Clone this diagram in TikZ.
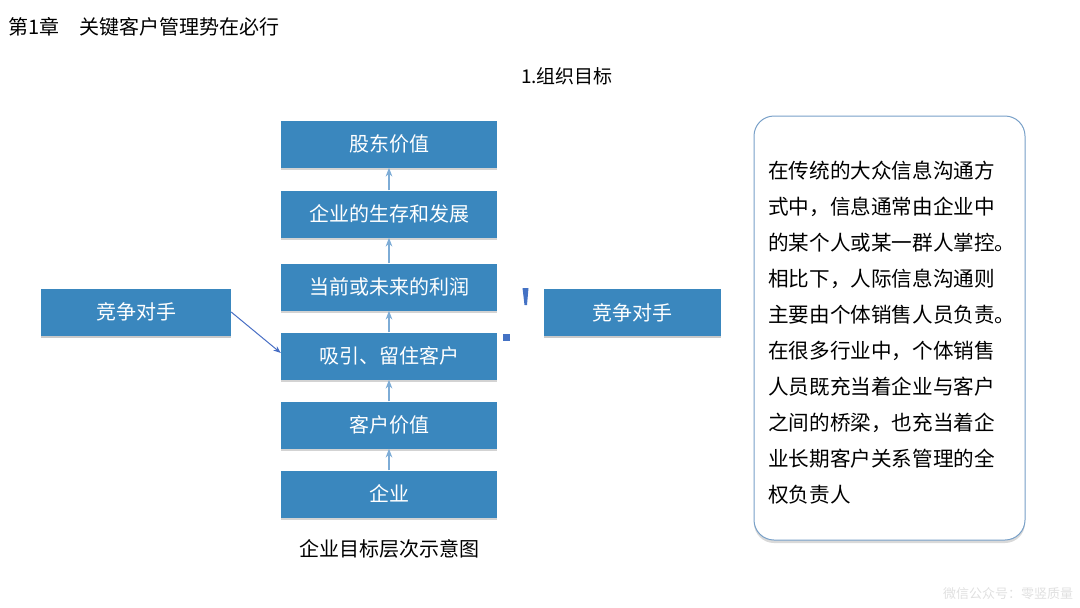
\documentclass[tikz,border=0pt]{standalone}
\usepackage{fontspec}
\setmainfont{Noto Sans CJK SC}
\usetikzlibrary{arrows.meta,positioning,shadows}
\definecolor{boxblue}{RGB}{58,135,190}
\definecolor{linkblue}{RGB}{125,172,214}
\definecolor{sideblue}{RGB}{72,110,196}
\definecolor{markblue}{RGB}{68,114,196}
\definecolor{frameblue}{RGB}{120,160,200}

\begin{document}
\begin{tikzpicture}[x=1pt,y=-1pt,>=Stealth,
  every node/.style={font=\fontsize{20}{24}\selectfont},
  goal/.style={fill=boxblue,text=white,minimum width=216pt,minimum height=47pt,inner sep=0pt,
    drop shadow={shadow xshift=0pt,shadow yshift=-2.5pt,opacity=.35,fill=gray}},
  rival/.style={goal,minimum width=190pt,drop shadow={shadow xshift=0pt,shadow yshift=-2pt,opacity=.12,fill=gray}}]
\useasboundingbox (0,0) rectangle (1080,608);
\node[anchor=west,inner sep=0pt] (title) at (8,27) {第1章\hspace{1em}关键客户管理势在必行};
\node[font=\fontsize{19}{23}\selectfont] (sub) at (567,76) {1.组织目标};
\node[goal] (g6) at (389,144) {股东价值};
\node[goal] (g5) at (389,214) {企业的生存和发展};
\node[goal] (g4) at (389,287) {当前或未来的利润};
\node[goal] (g3) at (389,356) {吸引、留住客户};
\node[goal] (g2) at (389,425) {客户价值};
\node[goal] (g1) at (389,494) {企业};
\node (cap) at (389,549) {企业目标层次示意图};
\node[rival] (r1) at (136,312) {竞争对手};
\node[rival,minimum width=177pt,text depth=-3pt] (r2) at (632,312) {竞争对手};
% links
\draw[->,linkblue,line width=1.3pt] (g1) -- (g2);
\draw[->,linkblue,line width=1.3pt] (g2) -- (g3);
\draw[->,linkblue,line width=1.3pt] (g3) -- (g4);
\draw[->,linkblue,line width=1.3pt] (g4) -- (g5);
\draw[->,linkblue,line width=1.3pt] (g5) -- (g6);
\draw[->,sideblue,line width=1pt] (r1.east) -- ([yshift=3pt]g3.west);
% stray marks
\fill[markblue] (522.5,288) -- (528.5,288) -- (527,305) -- (524.5,305) -- cycle;
\fill[markblue] (503,334) rectangle (510,341);
% note
\node[draw=frameblue,fill=white,line width=1pt,rounded corners=20pt,minimum width=271pt,minimum height=424pt,
  drop shadow={shadow xshift=0pt,shadow yshift=-3pt,opacity=.3,fill=gray}] (note) at (889.5,328) {};
\node[anchor=north west,align=left,inner sep=0pt,font=\fontsize{20.6}{36}\selectfont] (txt) at (768,161)
  {在传统的大众信息沟通方\\式中，信息通常由企业中\\的某个人或某一群人掌控。\\相比下，人际信息沟通则\\主要由个体销售人员负责。\\在很多行业中，个体销售\\人员既充当着企业与客户\\之间的桥梁，也充当着企\\业长期客户关系管理的全\\权负责人};
\node[text=black!12,font=\fontsize{13}{15}\selectfont] (wm) at (1008,594) {微信公众号：零竖质量};
\end{tikzpicture}
\end{document}
